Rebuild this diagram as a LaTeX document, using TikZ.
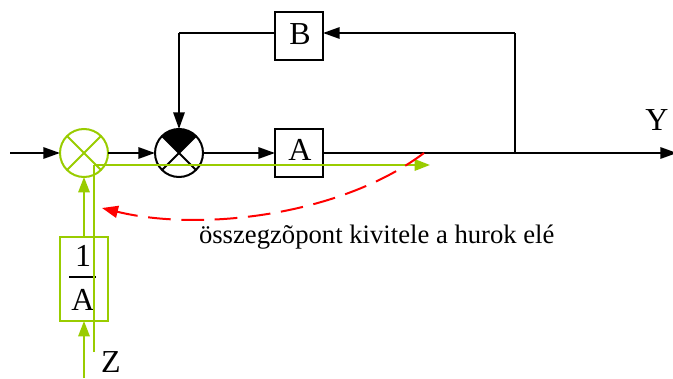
\documentclass[tikz,border=0pt]{standalone}
\usepackage{fontspec}
\setmainfont{Liberation Serif}
\usetikzlibrary{arrows.meta}
\definecolor{grn}{RGB}{153,204,0}
\tikzset{
  x=0.75pt,y=-0.75pt,
  every node/.style={inner sep=0pt,outer sep=0pt},
  wire/.style={line width=1.5pt},
  blk/.style={wire,draw=black,-{Triangle[length=12.5pt,width=8.5pt]}},
  gline/.style={wire,draw=grn},
  garrow/.style={wire,draw=grn,-{Triangle[length=11.5pt,width=8.5pt,fill=grn]}},
  blackbox/.style={draw=black,wire,minimum width=36pt,minimum height=36pt},
  sumc/.style={circle,wire,minimum size=36pt},
  lab/.style={font=\fontsize{24pt}{26pt}\selectfont},
}
\begin{document}
\begin{tikzpicture}
\useasboundingbox (0,0) rectangle (673,378);
\node[sumc,draw=grn] (s1) at (84,153) {};
\node[sumc,draw=black] (s2) at (179,153) {};
\fill[black] (s2.center) -- (s2.north west) arc[start angle=135,end angle=45,radius=18pt] -- cycle;
\draw[gline] (s1.north west) -- (s1.south east) (s1.north east) -- (s1.south west);
\draw[wire] (s2.north west) -- (s2.south east) (s2.north east) -- (s2.south west);
\node[blackbox] (a) at (299,153) {};
\node[blackbox] (b) at (299,36) {};
\node[lab] (al) at (300,150) {A};
\node[lab] (bl2) at (300,34) {B};
\node[draw=grn,wire,minimum width=36pt,minimum height=63pt] (f) at (84,279) {};
\node[lab] (fn) at (83,256) {1};
\node[lab] (fd) at (83,300) {A};
\coordinate (fl) at (69,277); \coordinate (fr) at (96,277);
\draw[line width=0.8pt] (fl) -- (fr);
\coordinate (in) at (10,153);
\coordinate (out) at (677,153);
\coordinate (tap) at (515,153);
\coordinate (top) at (515,33);
\coordinate (bl) at (179,33);
\coordinate (zin) at (84,378);
\coordinate (gc) at (94,165);
\coordinate (gz) at (94,352);
\coordinate (ge) at (430,165);
\coordinate (r1) at (424,153);
\coordinate (r2) at (102,208);
\draw[blk] (in) -- (s1);
\draw[blk] (s1) -- (s2);
\draw[blk] (s2) -- (a);
\draw[blk] (a) -- (out);
\draw[wire] (tap) -- (top);
\draw[blk] (top) -- (b.east |- top);
\draw[wire] (b.west |- bl) -- (bl);
\draw[blk] (bl) -- (s2);
\draw[gline] (gz) -- (gc);
\draw[garrow] (gc) -- (ge);
\draw[garrow] (f) -- (s1);
\draw[garrow] (zin) -- (f);
\draw[red,wire,dash pattern=on 17pt off 8pt,-{Triangle[length=12pt,width=9pt]}] (r1) .. controls (340,216) and (200,232) .. (r2);
\node[font=\fontsize{20pt}{22pt}\selectfont,anchor=base west] (t) at (199,243) {összegzõpont kivitele a hurok elé};
\node[lab] (z) at (111,362) {Z};
\node[lab] (y) at (657,120) {Y};
\end{tikzpicture}
\end{document}
